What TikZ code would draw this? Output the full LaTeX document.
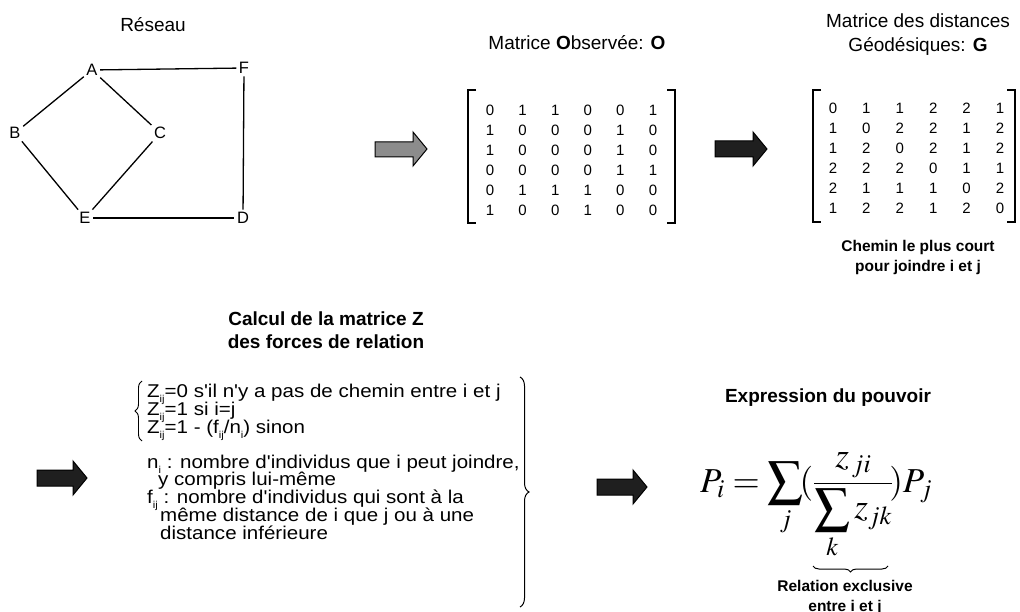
\documentclass[tikz,border=0pt]{standalone}
\usepackage{mathptmx}
\usepackage[no-math]{fontspec}
\setmainfont{Liberation Sans}
\newfontfamily\widefont[FakeStretch=1.11]{Liberation Sans}
\usetikzlibrary{decorations.pathreplacing}
\newcommand{\lowsub}[1]{\raisebox{-0.55ex}{\fontsize{10}{10}\selectfont #1}}
\begin{document}
\begin{tikzpicture}[x=1pt,y=-1pt,
  lbl/.style={font=\fontsize{16.5}{18}\selectfont, inner sep=2.5pt},
  edge/.style={line width=1.3pt},
  digit/.style={font=\fontsize{15}{16}\selectfont, inner sep=0pt, anchor=base},
  ttl/.style={font=\fontsize{19}{24}\selectfont, align=center, inner sep=0pt},
  bttl/.style={font=\bfseries\fontsize{19}{23}\selectfont, align=center, inner sep=0pt},
  captxt/.style={font=\bfseries\fontsize{15.5}{20}\selectfont, align=center, inner sep=0pt},
  txt/.style={font=\widefont\fontsize{18.5}{20}\selectfont, anchor=base west, inner sep=0pt},
  bracket/.style={line width=1.3pt},
  brc/.style={decorate, line width=1pt},
  lightarrow/.style={draw=black, line width=1pt, fill=black!45},
  darkarrow/.style={draw=black, line width=1pt, fill=black!88}
]
\useasboundingbox (0,0) rectangle (1020,612);
\fill[white] (0,0) rectangle (1020,612);

% ---------- Réseau ----------
\node[ttl] (treseau) at (153,25) {Réseau};
\node[lbl] (A) at (92,70) {A};
\node[lbl] (F) at (244,68) {F};
\node[lbl] (B) at (15,133) {B};
\node[lbl] (C) at (160,133) {C};
\node[lbl] (E) at (85,218) {E};
\node[lbl] (D) at (243,218) {D};
\draw[edge] (A) -- (F);
\draw[edge] (F) -- (D);
\draw[edge] (A) -- (B);
\draw[edge] (A) -- (C);
\draw[edge] (B) -- (E);
\draw[edge] (C) -- (E);
\draw[edge] (E) -- (D);

% ---------- arrow 1 ----------
\draw[lightarrow] (375,142) -- (413,142) -- (413,132) -- (427,149) -- (413,166) -- (413,157) -- (375,157) -- cycle;

% ---------- Matrice O ----------
\node[ttl] (tobs) at (577,43) {Matrice \textbf{O}bservée: \textbf{O}};
\draw[bracket] (476,90) -- (468,90) -- (468,223) -- (476,223);
\draw[bracket] (667,90) -- (675,90) -- (675,223) -- (667,223);
\foreach \row [count=\r] in {{0,1,1,0,0,1},{1,0,0,0,1,0},{1,0,0,0,1,0},{0,0,0,0,1,1},{0,1,1,1,0,0},{1,0,0,1,0,0}}{
  \foreach \v [count=\c] in \row {
    \node[digit] (o-\r-\c) at ({490+(\c-1)*32.6},{115.4+(\r-1)*20}) {\v};
  }
}

% ---------- arrow 2 ----------
\draw[darkarrow] (715,141) -- (753,141) -- (753,132) -- (767,149) -- (753,166) -- (753,157) -- (715,157) -- cycle;

% ---------- Matrice G ----------
\node[ttl] (tgeo) at (918,35) {Matrice des distances\\Géodésiques: \textbf{G}};
\draw[bracket] (821,90) -- (813,90) -- (813,222) -- (821,222);
\draw[bracket] (1007,90) -- (1015,90) -- (1015,222) -- (1007,222);
\foreach \row [count=\r] in {{0,1,1,2,2,1},{1,0,2,2,1,2},{1,2,0,2,1,2},{2,2,2,0,1,1},{2,1,1,1,0,2},{1,2,2,1,2,0}}{
  \foreach \v [count=\c] in \row {
    \node[digit] (g-\r-\c) at ({833+(\c-1)*33.4},{113.4+(\r-1)*20}) {\v};
  }
}
\node[captxt] (cgeo) at (918,257) {Chemin le plus court\\pour joindre i et j};

% ---------- Calcul de Z ----------
\node[bttl] (tcalc) at (326,330) {Calcul de la matrice Z\\des forces de relation};
\draw[darkarrow] (37,470) -- (73,470) -- (73,461) -- (87,478) -- (73,495) -- (73,486) -- (37,486) -- cycle;
\coordinate (lbB) at (142,441);
\coordinate (lbT) at (142,381);
\draw[brc, line width=0.9pt, decoration={brace, amplitude=7pt}] (lbB) -- (lbT);
\node[txt] (z0) at (147,397) {Z\lowsub{ij}=0 s'il n'y a pas de chemin entre i et j};
\node[txt] (z1) at (147,415) {Z\lowsub{ij}=1 si i=j};
\node[txt] (z2) at (147,433) {Z\lowsub{ij}=1 - (f\lowsub{ij}/n\lowsub{i}) sinon};
\node[txt] (n1) at (147,468) {n\lowsub{i} : nombre d'individus que i peut joindre,};
\node[txt] (n2) at (158,485.5) {y compris lui-même};
\node[txt] (f1) at (147,503) {f\lowsub{ij} : nombre d'individus qui sont à la};
\node[txt] (f2) at (160,521) {même distance de i que j ou à une};
\node[txt] (f3) at (160,539) {distance inférieure};
\coordinate (rbT) at (520,377);
\coordinate (rbB) at (520,607);
\draw[brc, decoration={brace, amplitude=9pt}] (rbT) -- (rbB);

% ---------- Expression du pouvoir ----------
\draw[darkarrow] (597,479) -- (633,479) -- (633,470) -- (647,487) -- (633,504) -- (633,495) -- (597,495) -- cycle;
\node[bttl] (tpow) at (828,398) {Expression du pouvoir};
\node[anchor=base west, inner sep=0pt, font=\fontsize{35}{40}\selectfont] (pow) at (700,492)
  {$\displaystyle P_i = \sum_j \!(\frac{z_{\,ji}}{\displaystyle\sum_k z_{jk}}\!)P_j$};
\coordinate (ubL) at (813,566);
\coordinate (ubR) at (888,566);
\draw[brc, decoration={brace, mirror, amplitude=6pt}] (ubL) -- (ubR);
\node[captxt] (crel) at (845,597) {Relation exclusive\\entre i et j};
\end{tikzpicture}
\end{document}
